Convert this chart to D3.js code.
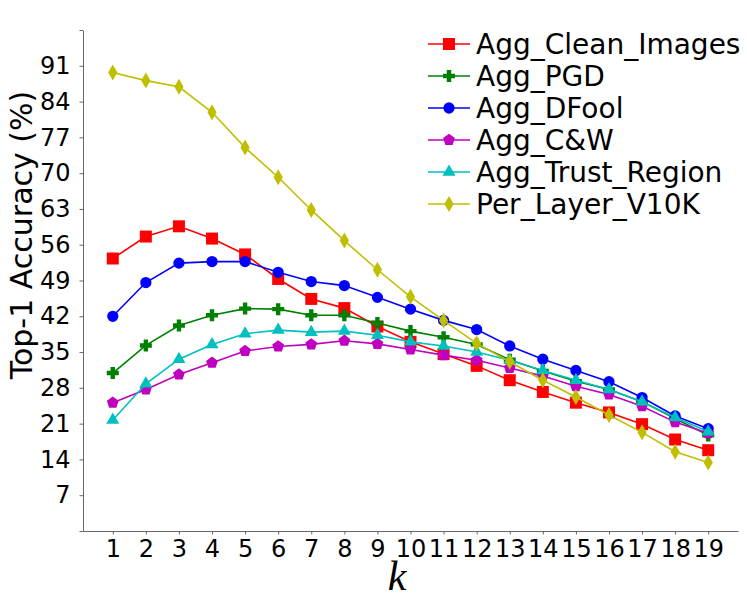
<!DOCTYPE html>
<html>
<head>
<meta charset="utf-8">
<script src="https://cdn.jsdelivr.net/npm/d3@7"></script>
<style>
    body { margin: 0; background: #fff; }
    svg { font-family: "DejaVu Sans", sans-serif; }
</style>
</head>
<body>
<div id="chart"></div>
<script>
// data
const kValues = d3.range(1, 20);
const yTicks = d3.range(0, 99, 7);
const seriesNames = ['Agg_Clean_Images', 'Agg_PGD', 'Agg_DFool', 'Agg_C&W', 'Agg_Trust_Region', 'Per_Layer_V10K'];
const cleanImages = [53.3, 57.6, 59.6, 57.2, 54.1, 49.3, 45.4, 43.6, 40.0, 37.0, 34.6, 32.3, 29.5, 27.2, 25.1, 23.2, 20.9, 17.9, 15.8];
const pgd = [30.9, 36.3, 40.2, 42.2, 43.5, 43.4, 42.2, 42.2, 40.7, 39.1, 37.9, 36.5, 33.5, 31.3, 29.3, 27.7, 25.3, 22.0, 18.7];
const dfool = [42.0, 48.6, 52.4, 52.7, 52.7, 50.6, 48.8, 48.0, 45.7, 43.4, 41.2, 39.4, 36.2, 33.6, 31.4, 29.2, 26.1, 22.5, 20.0];
const cw = [25.1, 27.7, 30.6, 32.9, 35.2, 36.1, 36.5, 37.2, 36.6, 35.5, 34.4, 33.4, 31.9, 30.3, 28.3, 26.7, 24.4, 21.3, 19.1];
const trustRegion = [21.7, 28.8, 33.6, 36.5, 38.6, 39.3, 38.9, 39.1, 38.3, 37.0, 36.2, 35.0, 33.4, 31.4, 29.5, 27.7, 25.3, 22.2, 19.4];
const perLayer = [89.7, 88.1, 86.9, 81.9, 75.0, 69.2, 62.8, 56.8, 51.1, 45.8, 41.2, 36.7, 33.1, 29.5, 26.2, 22.7, 19.3, 15.5, 13.4];

const seriesValues = [cleanImages, pgd, dfool, cw, trustRegion, perLayer];
const colors = ['#ff0000', '#008000', '#0000ff', '#bf00bf', '#00bfbf', '#bfbf00'];
const markers = ['square', 'plus', 'circle', 'pentagon', 'triangle', 'thin_diamond'];

const width = 747, height = 600;
const margin = { left: 83, right: 9, top: 30, bottom: 69 };

const svg = d3.select('#chart')
    .append('svg')
    .attr('width', width)
    .attr('height', height);

const x = d3.scaleLinear()
    .domain([0.1, 19.9])
    .range([margin.left, width - margin.right]);

const y = d3.scaleLinear()
    .domain([0, 98])
    .range([height - margin.bottom, margin.top]);

// 坐标轴
const xAxis = svg.append('g')
    .attr('transform', `translate(0,${height - margin.bottom})`)
    .call(d3.axisBottom(x).tickValues(kValues).tickSize(3.5).tickSizeOuter(0).tickPadding(5));

const yAxis = svg.append('g')
    .attr('transform', `translate(${margin.left},0)`)
    .call(d3.axisLeft(y).tickValues(yTicks).tickSize(3.5).tickSizeOuter(0).tickPadding(9)
        .tickFormat(d => (d === 0 || d === 98) ? '' : d));

[xAxis, yAxis].forEach(ax => {
    ax.select('.domain').attr('stroke', '#666').attr('stroke-width', 1);
    ax.selectAll('.tick line').attr('stroke', '#666');
    ax.selectAll('.tick text')
        .attr('fill', '#000')
        .style('font-size', '24px')
        .style('font-family', '"DejaVu Sans", sans-serif');
});

// 轴标题
svg.append('text')
    .attr('transform', 'translate(32,235) rotate(-90)')
    .attr('text-anchor', 'middle')
    .style('font-size', '30px')
    .text('Top-1 Accuracy (%)');

svg.append('text')
    .attr('x', 397)
    .attr('y', 590)
    .attr('text-anchor', 'middle')
    .style('font-size', '42px')
    .style('font-style', 'italic')
    .style('font-family', '"Liberation Serif", "DejaVu Serif", serif')
    .text('k');

// marker shapes
function markerPath(type) {
    if (type === 'square') return d3.symbol(d3.symbolSquare, 144)();
    if (type === 'circle') return d3.symbol(d3.symbolCircle, 100)();
    if (type === 'triangle') {
        const s = 13, h = s * Math.sqrt(3) / 2;
        return `M0,${-h * 2 / 3}L${s / 2},${h / 3}L${-s / 2},${h / 3}Z`;
    }
    if (type === 'plus') {
        const a = 6, b = 2.2;
        return `M${-b},${-a}H${b}V${-b}H${a}V${b}H${b}V${a}H${-b}V${b}H${-a}V${-b}H${-b}Z`;
    }
    if (type === 'pentagon') {
        const r = 6.2;
        const pts = d3.range(5).map(i => {
            const ang = -Math.PI / 2 + i * 2 * Math.PI / 5;
            return [r * Math.cos(ang), r * Math.sin(ang)];
        });
        return 'M' + pts.map(p => p.join(',')).join('L') + 'Z';
    }
    if (type === 'thin_diamond') {
        return 'M0,-8L4.6,0L0,8L-4.6,0Z';
    }
}

const line = d3.line()
    .x((d, i) => x(kValues[i]))
    .y(d => y(d));

seriesValues.forEach((vals, si) => {
    const g = svg.append('g');
    g.append('path')
        .datum(vals)
        .attr('fill', 'none')
        .attr('stroke', colors[si])
        .attr('stroke-width', 1.6)
        .attr('d', line);

    g.selectAll('path.mark')
        .data(vals)
        .enter()
        .append('path')
        .attr('class', 'mark')
        .attr('transform', (d, i) => `translate(${x(kValues[i])},${y(d)})`)
        .attr('d', markerPath(markers[si]))
        .attr('fill', colors[si]);
});

// 图例
const legend = svg.append('g');
const legendY0 = 44, legendStep = 32;
seriesNames.forEach((name, i) => {
    const ly = legendY0 + i * legendStep;
    legend.append('line')
        .attr('x1', 428).attr('x2', 470)
        .attr('y1', ly).attr('y2', ly)
        .attr('stroke', colors[i])
        .attr('stroke-width', 1.6);
    legend.append('path')
        .attr('transform', `translate(449,${ly})`)
        .attr('d', markerPath(markers[i]))
        .attr('fill', colors[i]);
    legend.append('text')
        .attr('x', 476)
        .attr('y', ly)
        .attr('dy', '0.36em')
        .style('font-size', '28px')
        .text(name);
});
</script>
</body>
</html>
